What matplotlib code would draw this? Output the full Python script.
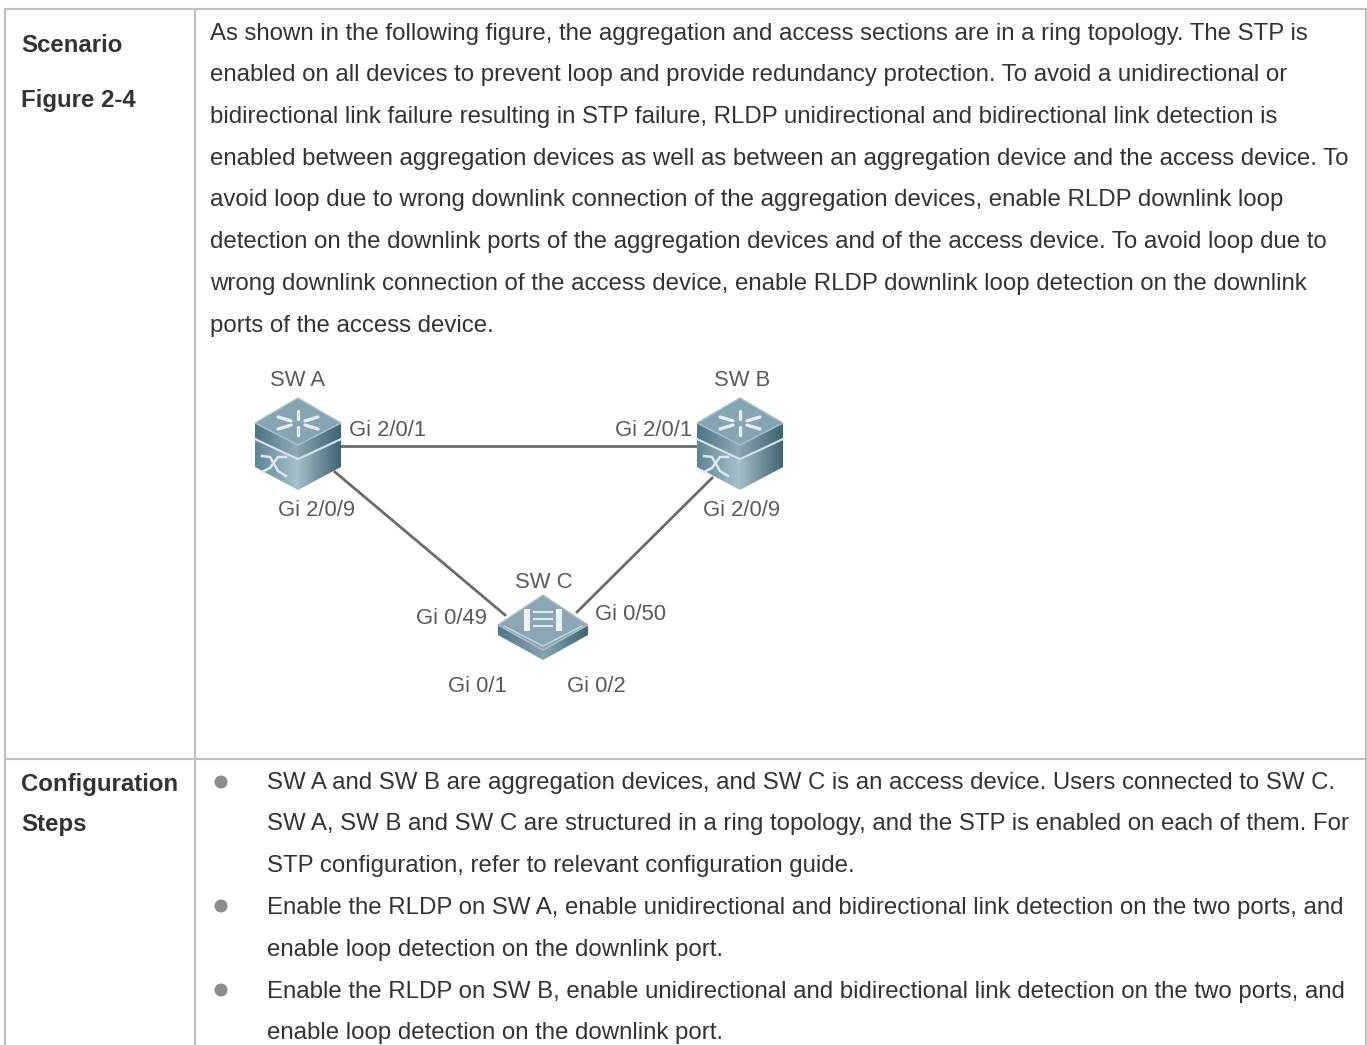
import numpy as np
import matplotlib
matplotlib.use('agg')
import matplotlib.pyplot as plt
from matplotlib.patches import Polygon, Circle
from matplotlib.colors import LinearSegmentedColormap

plt.rcParams['font.family'] = ['Liberation Sans', 'DejaVu Sans']

W, H = 1367, 1045
BORDER = '#bfbfbf'
TEXT = '#333333'
LABEL = '#5a5a5a'
TEXT_SHIFT = 2

row_labels = ['Scenario', 'Figure 2-4', 'Configuration', 'Steps']
row_label_y = [44, 98, 782, 823]

scenario_lines = [
    'As shown in the following figure, the aggregation and access sections are in a ring topology. The STP is',
    'enabled on all devices to prevent loop and provide redundancy protection. To avoid a unidirectional or',
    'bidirectional link failure resulting in STP failure, RLDP unidirectional and bidirectional link detection is',
    'enabled between aggregation devices as well as between an aggregation device and the access device. To',
    'avoid loop due to wrong downlink connection of the aggregation devices, enable RLDP downlink loop',
    'detection on the downlink ports of the aggregation devices and of the access device. To avoid loop due to',
    'wrong downlink connection of the access device, enable RLDP downlink loop detection on the downlink',
    'ports of the access device.',
]
scenario_y = [32, 73, 115, 157, 198, 240, 282, 324]

step_lines = [
    'SW A and SW B are aggregation devices, and SW C is an access device. Users connected to SW C.',
    'SW A, SW B and SW C are structured in a ring topology, and the STP is enabled on each of them. For',
    'STP configuration, refer to relevant configuration guide.',
    'Enable the RLDP on SW A, enable unidirectional and bidirectional link detection on the two ports, and',
    'enable loop detection on the downlink port.',
    'Enable the RLDP on SW B, enable unidirectional and bidirectional link detection on the two ports, and',
    'enable loop detection on the downlink port.',
]
step_y = [781, 822, 864, 906, 948, 990, 1031]
bullet_y = [782, 906, 990]

switch_names = ['SW A', 'SW B', 'SW C']
switch_name_x = [297, 742, 544]
switch_name_y = [379, 379, 580]

port_labels = ['Gi 2/0/1', 'Gi 2/0/1', 'Gi 2/0/9', 'Gi 2/0/9', 'Gi 0/49', 'Gi 0/50', 'Gi 0/1', 'Gi 0/2']
port_x = [349, 615, 278, 703, 416, 595, 448, 567]
port_y = [428, 428, 508, 508, 617, 612, 685, 685]

links = [((340, 446), (698, 446)), ((335, 472), (505, 615)), ((712, 478), (577, 612))]


def gradient_poly(ax, pts, colors, zorder=3):
    cmap = LinearSegmentedColormap.from_list('g', colors)
    xs = [p[0] for p in pts]
    ys = [p[1] for p in pts]
    ext = (min(xs), max(xs), max(ys), min(ys))
    im = ax.imshow(np.linspace(0, 1, 64).reshape(1, -1), cmap=cmap, extent=ext,
                   aspect='auto', zorder=zorder, interpolation='bilinear')
    clip = Polygon(pts, closed=True, transform=ax.transData, fc='none', ec='none')
    ax.add_patch(clip)
    im.set_clip_path(clip)


def draw_tall_switch(ax, cx, top):
    hw = 43
    mid = top + 25
    low = top + 47
    # lower block, then upper block, then the lid
    gradient_poly(ax, [(cx - hw, mid + 17), (cx, low + 15), (cx, top + 92), (cx - hw, mid + 44)],
                  ['#5f8595', '#a9c2cb'])
    gradient_poly(ax, [(cx, low + 15), (cx + hw, mid + 17), (cx + hw, mid + 44), (cx, top + 92)],
                  ['#a3bcc6', '#3f6473'])
    gradient_poly(ax, [(cx - hw, mid), (cx, low), (cx, low + 15), (cx - hw, mid + 15)],
                  ['#4f7484', '#8fadb9'])
    gradient_poly(ax, [(cx, low), (cx + hw, mid), (cx + hw, mid + 15), (cx, low + 15)],
                  ['#86a5b1', '#3f6473'])
    ax.add_patch(Polygon([(cx - hw, mid), (cx, top), (cx + hw, mid), (cx, low)],
                         fc='#86a5b2', ec='#a9c0ca', lw=1, zorder=4))
    ax.plot([cx - hw, cx, cx + hw], [mid + 16, low + 14, mid + 16], color='#d5e1e6', lw=1.4, zorder=5)
    # star on the lid
    for dx, dy in [(-20, -6), (20, -6), (-20, 6), (20, 6), (0, -12), (0, 12)]:
        ax.plot([cx + dx * 0.35, cx + dx], [mid + dy * 0.35, mid + dy], color='#e6edf0', lw=2.4,
                solid_capstyle='round', zorder=5)
    # crossing arrows on the front
    fx = cx - 24
    fy = mid + 40
    ax.plot([fx - 12, fx - 4, fx + 4, fx + 12], [fy - 7, fy - 6, fy + 8, fy + 13], color='#dfe8ec', lw=1.8, zorder=5)
    ax.plot([fx - 12, fx - 4, fx + 4, fx + 12], [fy + 9, fy + 5, fy - 6, fy - 6], color='#dfe8ec', lw=1.8, zorder=5)


def draw_flat_switch(ax, cx, top):
    hw = 45
    mid = top + 30
    low = top + 55
    gradient_poly(ax, [(cx - hw, mid), (cx, low), (cx, low + 10), (cx - hw, mid + 10)],
                  ['#527685', '#86a4b0'])
    gradient_poly(ax, [(cx, low), (cx + hw, mid), (cx + hw, mid + 10), (cx, low + 10)],
                  ['#86a4b0', '#3f6473'])
    ax.add_patch(Polygon([(cx - hw, mid), (cx, top), (cx + hw, mid), (cx, low)],
                         fc='#8aa8b4', ec='#a9c0ca', lw=1, zorder=4))
    ax.plot([cx - hw + 6, cx, cx + hw - 6], [mid + 1, low - 4, mid + 1], color='#c9d8de', lw=1, zorder=5)
    ax.add_patch(Polygon([(cx - 19, top + 14), (cx - 13, top + 14), (cx - 13, top + 36), (cx - 19, top + 36)],
                         fc='#eef2f4', ec='none', zorder=5))
    ax.add_patch(Polygon([(cx + 13, top + 14), (cx + 19, top + 14), (cx + 19, top + 36), (cx + 13, top + 36)],
                         fc='#eef2f4', ec='none', zorder=5))
    for dy in [17, 24, 31]:
        ax.plot([cx - 9, cx + 9], [top + dy, top + dy], color='#e0e8eb', lw=1.5, zorder=5)


fig = plt.figure(figsize=(W / 100, H / 100), dpi=100)
ax = fig.add_axes([0, 0, 1, 1])
ax.set_xlim(0, W)
ax.set_ylim(H, 0)
ax.axis('off')

# table grid
ax.plot([5, 5], [9, H], color=BORDER, lw=1.5)
ax.plot([195, 195], [9, H], color=BORDER, lw=1.5)
ax.plot([1366, 1366], [9, H], color=BORDER, lw=1.5)
ax.plot([5, 1366], [9, 9], color=BORDER, lw=1.5)
ax.plot([5, 1366], [759, 759], color=BORDER, lw=1.5)

for label, y in zip(row_labels, row_label_y):
    ax.text(21, y + TEXT_SHIFT, label, fontsize=17.3, fontweight='bold', color=TEXT, va='center', ha='left')
for line, y in zip(scenario_lines, scenario_y):
    ax.text(210, y + TEXT_SHIFT, line, fontsize=17.3, color=TEXT, va='center', ha='left')
for line, y in zip(step_lines, step_y):
    ax.text(267, y + TEXT_SHIFT, line, fontsize=17.3, color=TEXT, va='center', ha='left')
for y in bullet_y:
    ax.add_patch(Circle((221, y), 6.5, fc='#8c8c8c', ec='none'))

# network diagram
for a, b in links:
    ax.plot([a[0], b[0]], [a[1], b[1]], color='#6b6b6b', lw=2.0, zorder=2)
draw_tall_switch(ax, 298, 398)
draw_tall_switch(ax, 740, 398)
draw_flat_switch(ax, 543, 595)

for name, x, y in zip(switch_names, switch_name_x, switch_name_y):
    ax.text(x, y + TEXT_SHIFT, name, fontsize=15.8, color=LABEL, va='center', ha='center')
for label, x, y in zip(port_labels, port_x, port_y):
    ax.text(x, y + TEXT_SHIFT, label, fontsize=15.8, color=LABEL, va='center', ha='left')

ax.set_xlim(0, W)
ax.set_ylim(H, 0)
fig.savefig('out.png', dpi=100)
